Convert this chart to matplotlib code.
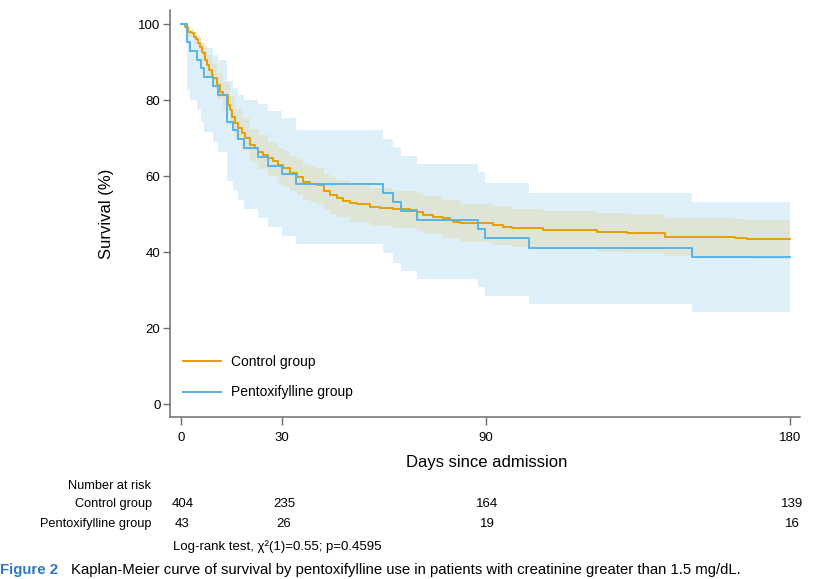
import numpy as np
import matplotlib
matplotlib.use('Agg')
import matplotlib.pyplot as plt
from matplotlib import transforms

plt.rcParams['font.family'] = ['Liberation Sans', 'DejaVu Sans']

#curva grupo control (dias, supervivencia %)
ctrl_t = [0, 1.3, 2.2, 3.2, 3.9, 4.5, 5.2, 5.7, 6.2, 6.7, 7.2, 7.7, 8.5, 9.2, 9.6,
          10.6, 11.6, 12.6, 14.1, 14.6, 15.1, 16.0, 17.0, 18.0, 19.0, 20.5, 21.9,
          22.9, 24.4, 25.9, 27.3, 28.8, 30.3, 32.3, 34.2, 36.2, 38.2, 40.2, 42.3,
          44.1, 46.0, 48.0, 50.0, 52.0, 55.9, 58.8, 62.8, 67.7, 69.7, 71.6, 74.6,
          77.5, 79.5, 80.5, 82.5, 92.3, 95.2, 97.7, 107.1, 122.8, 131.7, 143.0,
          163.7, 167.1, 180]
ctrl_s = [100, 99.4, 98.1, 97.6, 96.7, 96.0, 95.0, 94.1, 92.8, 92.4, 90.6, 89.3, 88.0, 86.7, 85.8,
          84.0, 82.3, 81.4, 78.8, 77.5, 75.7, 74.0, 72.6, 71.3, 70.0, 68.3, 67.4,
          66.5, 65.6, 64.7, 63.9, 63.0, 62.1, 60.8, 59.9, 58.6, 58.1, 57.7, 56.0,
          55.0, 54.2, 53.6, 52.9, 52.6, 52.0, 51.6, 51.3, 51.0, 50.6, 49.9, 49.4,
          48.9, 48.5, 48.1, 47.6, 47.2, 46.7, 46.3, 45.9, 45.4, 45.0, 44.1,
          43.8, 43.4, 43.4]

#intervalo de confianza grupo control
ctrl_ci_t = [0, 1.3, 2.2, 3.9, 5.2, 6.2, 7.7, 9.2, 10.6, 12.6, 14.6, 16.0, 18.0, 20.5,
             22.9, 25.9, 28.8, 30.3, 32.3, 34.2, 36.2, 38.2, 40.2, 42.3, 44.1, 46.0,
             50.0, 55.9, 62.8, 69.7, 71.6, 77.5, 82.5, 92.3, 97.7, 107.1, 122.8,
             131.7, 143.0, 163.7, 167.1, 180]
ctrl_lo = [100, 98.6, 96.7, 94.8, 92.8, 90.2, 86.2, 83.4, 80.4, 77.6, 73.5, 69.8, 67.0, 63.8,
           61.9, 60.0, 58.3, 57.3, 56.0, 55.0, 53.8, 53.2, 52.8, 51.1, 50.2, 49.4,
           48.0, 47.0, 46.3, 45.6, 44.9, 43.8, 42.6, 42.0, 41.3, 40.8, 40.2,
           39.8, 38.9, 38.6, 38.2, 38.2]
ctrl_hi = [100, 100, 99.1, 98.1, 96.7, 95.0, 92.0, 89.8, 87.2, 84.8, 81.2, 77.8, 75.4, 72.5,
           70.8, 69.1, 67.4, 66.6, 65.4, 64.5, 63.2, 62.7, 62.3, 60.6, 59.7, 59.0,
           57.7, 56.9, 56.2, 55.5, 54.8, 53.8, 52.6, 52.2, 51.3, 50.9, 50.4,
           50.0, 49.1, 48.8, 48.5, 48.5]

#curva grupo pentoxifilina
pent_t = [0, 1.8, 2.8, 4.7, 6.0, 7.0, 9.4, 10.9, 13.8, 15.5, 17.0, 18.7, 22.9, 25.9,
          29.8, 34.0, 59.8, 62.6, 65.0, 69.9, 87.9, 89.8, 102.9, 150.9, 180]
pent_s = [100, 95.3, 93.0, 90.7, 88.4, 86.0, 83.7, 81.4, 74.4, 72.1, 69.8, 67.4, 65.1, 62.8,
          60.5, 58.1, 55.7, 53.3, 50.9, 48.5, 46.0, 43.7, 41.0, 38.7, 38.7]
pent_lo = [100, 82.7, 80.1, 77.4, 74.4, 71.7, 69.0, 66.5, 58.8, 56.4, 53.8, 51.3, 49.0, 46.7,
           44.3, 42.2, 39.7, 37.3, 35.2, 32.9, 30.8, 28.6, 26.3, 24.2, 24.2]
pent_hi = [100, 99.0, 98.0, 96.5, 95.0, 93.7, 92.0, 90.5, 85.0, 83.2, 81.5, 80.2, 79.0, 77.2,
           75.3, 72.2, 69.8, 67.6, 65.4, 63.2, 61.0, 58.2, 55.6, 53.3, 53.3]

#numero en riesgo
risk_t = [0, 30, 90, 180]
risk_ctrl = [404, 235, 164, 139]
risk_pent = [43, 26, 19, 16]

naranja = '#e69f00'
azul = '#56b4e9'
gris = '#6e6e6e'

W, H = 838, 579
fig = plt.figure(figsize=(W/100, H/100), dpi=100)
ax = fig.add_axes([170/W, 1-417/H, 630/W, 407/H])

#bandas de confianza
ax.fill_between(pent_t, pent_lo, pent_hi, step='post', color=azul, alpha=0.2, lw=0)
ax.fill_between(ctrl_ci_t, ctrl_lo, ctrl_hi, step='post', color=naranja, alpha=0.14, lw=0)

#curvas
l1, = ax.step(ctrl_t, ctrl_s, where='post', color=naranja, lw=1.4, label='Control group')
l2, = ax.step(pent_t, pent_s, where='post', color=azul, lw=1.4, label='Pentoxifylline group')

ax.set_xlim(-3.16, 182.84)
ax.set_ylim(-3.34, 103.76)
ax.set_xticks(risk_t)
ax.set_yticks([0, 20, 40, 60, 80, 100])
for s in ['top', 'right']:
    ax.spines[s].set_visible(False)
for s in ['left', 'bottom']:
    ax.spines[s].set_color(gris)
    ax.spines[s].set_linewidth(1.1)
ax.tick_params(axis='x', length=6, width=1, color=gris, pad=4.5, labelsize=9.5)
ax.tick_params(axis='y', length=5.3, width=1, color=gris, pad=1.5, labelsize=9.5)

ax.legend(handles=[l1, l2], loc='center left', bbox_to_anchor=(0.0202, 0.098),
          frameon=False, borderpad=0, borderaxespad=0, handlelength=2.73,
          handletextpad=0.74, labelspacing=1.2, fontsize=10)

def ftxt(x, y, s, **kw):
    fig.text(x/W, 1-y/H, s, **kw)

ftxt(107, 214, 'Survival (%)', rotation=90, ha='center', va='center', fontsize=12)
ftxt(487, 463, 'Days since admission', ha='center', va='center', fontsize=12)

#tabla de numero en riesgo
ftxt(151, 486, 'Number at risk', ha='right', va='center', fontsize=9.2)
ftxt(152, 504, 'Control group', ha='right', va='center', fontsize=9.2)
ftxt(152, 524, 'Pentoxifylline group', ha='right', va='center', fontsize=9.2)
trans = transforms.blended_transform_factory(ax.transData, fig.transFigure)
for t, a, b in zip(risk_t, risk_ctrl, risk_pent):
    ax.text(t + 0.5, 1-504/H, str(a), transform=trans, ha='center', va='center', fontsize=9.5)
    ax.text(t + 0.5, 1-524/H, str(b), transform=trans, ha='center', va='center', fontsize=9.5)

ftxt(173, 547, 'Log-rank test, χ²(1)=0.55; p=0.4595', ha='left', va='center', fontsize=9.5)

ftxt(0, 570, 'Figure 2', ha='left', va='center', fontsize=10.8, fontweight='bold', color='#2a78c2')
ftxt(71, 570, 'Kaplan-Meier curve of survival by pentoxifylline use in patients with creatinine greater than 1.5 mg/dL.',
     ha='left', va='center', fontsize=10.75)

fig.savefig('out.png', dpi=100)
